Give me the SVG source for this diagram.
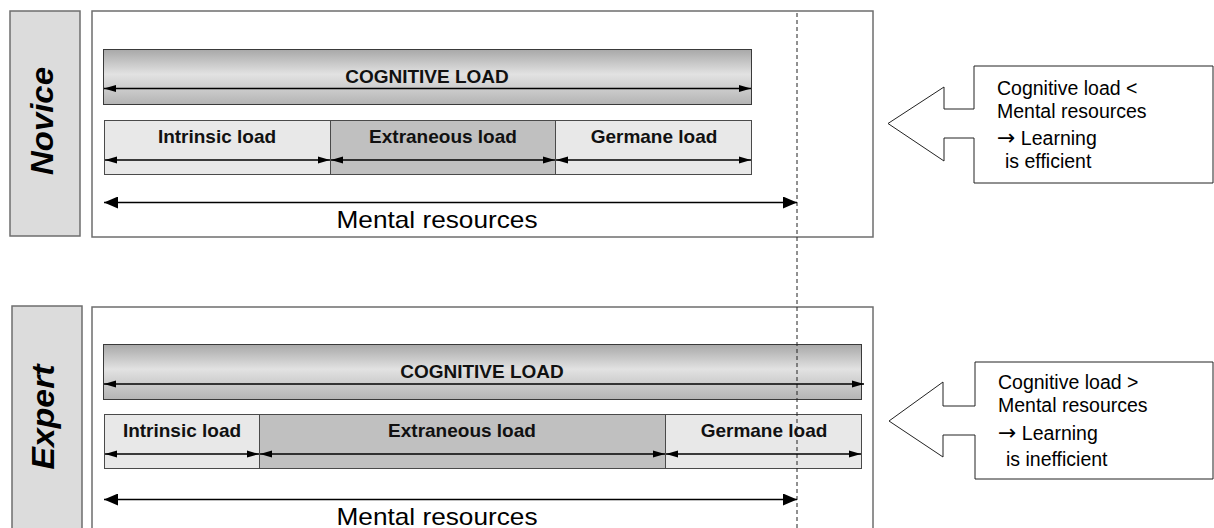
<svg xmlns="http://www.w3.org/2000/svg" width="1214" height="528" viewBox="0 0 1214 528">
  <style>
    .side { fill: #dcdcdc; stroke: #6e6e6e; stroke-width: 1.5; }
    .panel { fill: #ffffff; stroke: #6e6e6e; stroke-width: 1.5; }
    .bar { fill: url(#barGrad); stroke: #3a3a3a; stroke-width: 1; }
    .seg-light { fill: #e8e8e8; stroke: #4a4a4a; stroke-width: 1; }
    .seg-dark { fill: #c0c0c0; stroke: #4a4a4a; stroke-width: 1; }
    .dim { stroke: #000; stroke-width: 1.3; fill: none; marker-start: url(#headL); marker-end: url(#headR); }
    .dimBig { stroke: #000; stroke-width: 1.5; fill: none; marker-start: url(#bigL); marker-end: url(#bigR); }
    .callout { fill: #fff; stroke: #222; stroke-width: 1; }
    .title { font-family: "Liberation Sans", Arial, sans-serif; font-weight: bold; font-style: italic; font-size: 31px; fill: #000; }
    .lbl { font-family: "Liberation Sans", Arial, sans-serif; font-weight: bold; font-size: 19px; fill: #111; text-anchor: middle; }
    .res { font-family: "Liberation Sans", Arial, sans-serif; font-size: 24px; fill: #000; text-anchor: middle; }
    .note { font-family: "Liberation Sans", Arial, sans-serif; font-size: 19.5px; fill: #000; }
    .arw { font-family: "DejaVu Sans", sans-serif; font-size: 22px; }
  </style>
  <defs>
    <linearGradient id="barGrad" x1="0" y1="0" x2="0" y2="1">
      <stop offset="0" stop-color="#a8a8a8"/>
      <stop offset="0.45" stop-color="#e2e2e2"/>
      <stop offset="1" stop-color="#b4b4b4"/>
    </linearGradient>
    <marker id="headR" markerUnits="userSpaceOnUse" markerWidth="12" markerHeight="8" refX="12" refY="4" orient="auto">
      <path d="M0,0.5 L12,4 L0,7.5 Z" fill="#000"/>
    </marker>
    <marker id="headL" markerUnits="userSpaceOnUse" markerWidth="12" markerHeight="8" refX="0" refY="4" orient="auto">
      <path d="M12,0.5 L0,4 L12,7.5 Z" fill="#000"/>
    </marker>
    <marker id="bigR" markerUnits="userSpaceOnUse" markerWidth="14" markerHeight="12" refX="14" refY="6" orient="auto">
      <path d="M0,0 L14,6 L0,12 Z" fill="#000"/>
    </marker>
    <marker id="bigL" markerUnits="userSpaceOnUse" markerWidth="14" markerHeight="12" refX="0" refY="6" orient="auto">
      <path d="M14,0 L0,6 L14,12 Z" fill="#000"/>
    </marker>
  </defs>

  <!-- Novice panel -->
  <g id="novice-label">
    <rect class="side" x="10" y="11" width="70" height="225"/>
    <text class="title" transform="translate(53,121) rotate(-90)" text-anchor="middle" textLength="108" lengthAdjust="spacingAndGlyphs">Novice</text>
  </g>
  <g id="novice-panel">
    <rect class="panel" x="92" y="11" width="781" height="226"/>
  </g>
  <g id="novice-cognitive-load">
    <rect class="bar" x="103.5" y="49.5" width="648" height="55"/>
    <text class="lbl" x="427" y="83">COGNITIVE LOAD</text>
  </g>
  <g id="novice-intrinsic">
    <rect class="seg-light" x="104.5" y="120.5" width="226" height="54"/>
    <text class="lbl" x="217" y="143">Intrinsic load</text>
  </g>
  <g id="novice-extraneous">
    <rect class="seg-dark" x="330.5" y="120.5" width="225" height="54"/>
    <text class="lbl" x="443" y="143">Extraneous load</text>
  </g>
  <g id="novice-germane">
    <rect class="seg-light" x="555.5" y="120.5" width="196" height="54"/>
    <text class="lbl" x="654" y="143">Germane load</text>
  </g>
  <g id="novice-resources">
    <text class="res" x="437" y="228" textLength="201" lengthAdjust="spacingAndGlyphs">Mental resources</text>
  </g>
  <g id="novice-callout">
    <path class="callout" d="M974,66 H1213 V183 H974 V138 H944 V161 L888,123.5 L944,87 V109 H974 Z"/>
    <text class="note" x="997" y="95">Cognitive load &lt;</text>
    <text class="note" x="997" y="118">Mental resources</text>
    <text class="note" x="997" y="145"><tspan class="arw">→</tspan> Learning</text>
    <text class="note" x="1005" y="168">is efficient</text>
  </g>

  <!-- Expert panel -->
  <g id="expert-label">
    <rect class="side" x="12" y="306" width="70" height="230"/>
    <text class="title" transform="translate(54,417) rotate(-90)" text-anchor="middle" textLength="105" lengthAdjust="spacingAndGlyphs">Expert</text>
  </g>
  <g id="expert-panel">
    <rect class="panel" x="92" y="307" width="781" height="230"/>
  </g>
  <g id="expert-cognitive-load">
    <rect class="bar" x="103.5" y="344.5" width="758" height="55"/>
    <text class="lbl" x="482" y="378">COGNITIVE LOAD</text>
  </g>
  <g id="expert-intrinsic">
    <rect class="seg-light" x="104.5" y="414.5" width="155" height="54"/>
    <text class="lbl" x="182" y="437">Intrinsic load</text>
  </g>
  <g id="expert-extraneous">
    <rect class="seg-dark" x="259.5" y="414.5" width="406" height="54"/>
    <text class="lbl" x="462" y="437">Extraneous load</text>
  </g>
  <g id="expert-germane">
    <rect class="seg-light" x="665.5" y="414.5" width="196" height="54"/>
    <text class="lbl" x="764" y="437">Germane load</text>
  </g>
  <g id="expert-resources">
    <text class="res" x="437" y="525" textLength="201" lengthAdjust="spacingAndGlyphs">Mental resources</text>
  </g>
  <g id="expert-callout">
    <path class="callout" d="M975,362 H1213 V479 H975 V435 H943 V457 L889,421 L943,382 V406 H975 Z"/>
    <text class="note" x="998" y="389">Cognitive load &gt;</text>
    <text class="note" x="998" y="412">Mental resources</text>
    <text class="note" x="998" y="440"><tspan class="arw">→</tspan> Learning</text>
    <text class="note" x="1006" y="466">is inefficient</text>
  </g>

  <!-- Connectors: dimension arrows and the capacity limit -->
  <g id="connectors">
    <line x1="797" y1="13" x2="797" y2="528" stroke="#222" stroke-width="1" stroke-dasharray="4 3"/>
    <line class="dim" x1="104" y1="88.5" x2="751" y2="88.5"/>
    <line class="dim" x1="105" y1="160" x2="330" y2="160"/>
    <line class="dim" x1="331" y1="160" x2="555" y2="160"/>
    <line class="dim" x1="556" y1="160" x2="751" y2="160"/>
    <line class="dimBig" x1="104" y1="202.5" x2="797" y2="202.5"/>
    <line class="dim" x1="104" y1="384" x2="864" y2="384"/>
    <line class="dim" x1="105" y1="454" x2="259" y2="454"/>
    <line class="dim" x1="260" y1="454" x2="665" y2="454"/>
    <line class="dim" x1="666" y1="454" x2="861" y2="454"/>
    <line class="dimBig" x1="104" y1="499.5" x2="797" y2="499.5"/>
  </g>
</svg>
